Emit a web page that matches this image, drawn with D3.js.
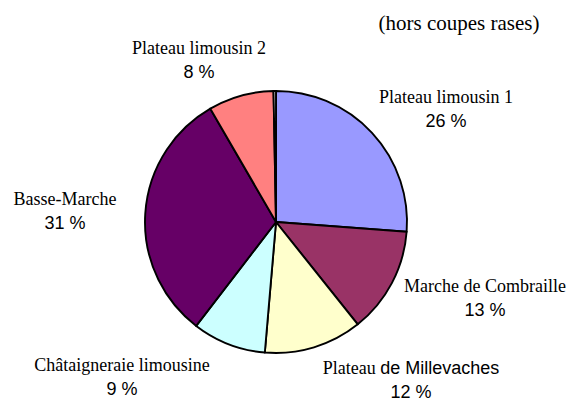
<!DOCTYPE html>
<html>
<head>
<meta charset="utf-8">
<script src="https://cdn.jsdelivr.net/npm/d3@7"></script>
<style>
  html, body { margin: 0; padding: 0; background: #fff; }
  svg { display: block; }
  .name { font-family: "Liberation Serif", "Times New Roman", serif; font-size: 18px; fill: #000; }
  .sans { font-family: "Liberation Sans", Arial, sans-serif; }
  .pct { font-family: "Liberation Sans", Arial, sans-serif; font-size: 18px; fill: #000; }
  .title { font-family: "Liberation Serif", "Times New Roman", serif; font-size: 21px; fill: #000; }
</style>
</head>
<body>
<svg id="chart" width="573" height="398"></svg>
<script>
// Share of each region (%), clockwise from 12 o'clock
const regions = ["Plateau limousin 1", "Marche de Combraille", "Plateau de Millevaches",
                 "Châtaigneraie limousine", "Basse-Marche", "Plateau limousin 2", "Autres"];
const shares = [26, 13, 12, 9, 31, 8, 0.3];
const shareLabels = ["26 %", "13 %", "12 %", "9 %", "31 %", "8 %", ""];
const sliceColors = ["#9999FF", "#993366", "#FFFFCC", "#CCFFFF", "#660066", "#FF8080", "#FFFFFF"];
const subtitle = "(hors coupes rases)";

// Label block centres (x, name baseline) around the pie
const labelLayout = [
  [446, 103], [485, 292], [411, 374], [122, 371], [65, 205], [199, 54], null
];

const width = 573, height = 398;
const cx = 276, cy = 222, radius = 131;

const svg = d3.select("#chart");

const data = regions.map((name, i) => ({ name, value: shares[i], label: shareLabels[i], color: sliceColors[i] }));

const pie = d3.pie().sort(null).value(d => d.value);
const arc = d3.arc().innerRadius(0).outerRadius(radius);

const g = svg.append("g").attr("transform", `translate(${cx},${cy})`);

g.selectAll("path")
  .data(pie(data))
  .join("path")
  .attr("d", arc)
  .attr("fill", d => d.data.color)
  .attr("stroke", "#000")
  .attr("stroke-width", 1.9)
  .attr("stroke-linejoin", "round");

// Data labels: region name over its percentage
const labels = svg.append("g");
data.forEach((d, i) => {
  const pos = labelLayout[i];
  if (!pos) return;
  const t = labels.append("text")
    .attr("class", "name")
    .attr("x", pos[0])
    .attr("y", pos[1])
    .attr("text-anchor", "middle");
  if (d.name === "Plateau de Millevaches") {
    t.append("tspan").text("Plateau ");
    t.append("tspan").attr("class", "sans").text("de Millevaches");
  } else {
    t.text(d.name);
  }
  labels.append("text")
    .attr("class", "pct")
    .attr("x", pos[0])
    .attr("y", pos[1] + 24)
    .attr("text-anchor", "middle")
    .text(d.label);
});

svg.append("text")
  .attr("class", "title")
  .attr("x", 459)
  .attr("y", 30)
  .attr("text-anchor", "middle")
  .text(subtitle);
</script>
</body>
</html>
